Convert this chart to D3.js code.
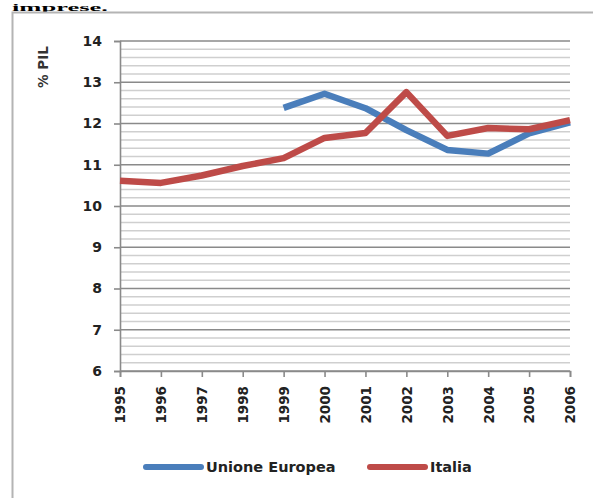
<!DOCTYPE html>
<html><head><meta charset="utf-8">
<script src="https://cdn.jsdelivr.net/npm/d3@7/dist/d3.min.js"></script>
<style>
html,body{margin:0;padding:0;background:#fff;}
svg{display:block;}
</style></head>
<body>
<svg id="chart" width="593" height="498"></svg>
<script>
const years = ["1995","1996","1997","1998","1999","2000","2001","2002","2003","2004","2005","2006"];
const ueValues = [null,null,null,null,12.38,12.72,12.37,11.84,11.36,11.27,11.76,12.03];
const italiaValues = [10.61,10.56,10.74,10.97,11.16,11.65,11.77,12.76,11.7,11.89,11.86,12.08];
const yTicks = [6,7,8,9,10,11,12,13,14];
const seriesNames = ["Unione Europea","Italia"];
const seriesColors = ["#4A7EBB","#BE4B48"];

const svg = d3.select("#chart");
const font = "'DejaVu Sans', sans-serif";

// title fragment above the chart frame
svg.append("text").attr("x",12).attr("y",10.5)
  .attr("font-family","'Liberation Serif', serif").attr("font-weight","bold")
  .attr("font-size",11).attr("fill","#000")
  .attr("textLength",96).attr("lengthAdjust","spacingAndGlyphs")
  .text("imprese.");

// chart frame
svg.append("rect").attr("x",12.5).attr("y",12.5).attr("width",640).attr("height",560)
  .attr("fill","none").attr("stroke","#b4b4b4").attr("stroke-width",2);

const x = d3.scalePoint().domain(years).range([120,570]);
const y = d3.scaleLinear().domain([6,14]).range([371,41]);

// minor gridlines
const minor = d3.range(6,14.001,0.2).map(v=>+v.toFixed(1));
svg.append("g").selectAll("line").data(minor.filter(v=>Math.abs(v-Math.round(v))>0.01)).join("line")
  .attr("x1",120).attr("x2",570)
  .attr("y1",d=>y(d)).attr("y2",d=>y(d))
  .attr("stroke","#cfcfcf").attr("stroke-width",1.6);
// major gridlines
svg.append("g").selectAll("line").data(yTicks).join("line")
  .attr("x1",120).attr("x2",570)
  .attr("y1",d=>y(d)).attr("y2",d=>y(d))
  .attr("stroke","#8a8a8a").attr("stroke-width",1.6);

// y axis
const yAxis = svg.append("g").attr("transform","translate(120,0)")
  .call(d3.axisLeft(y).tickValues(yTicks).tickSize(6).tickPadding(12).tickFormat(d3.format("d")));
yAxis.select(".domain").attr("stroke","#8a8a8a").attr("stroke-width",1.6);
yAxis.selectAll(".tick line").attr("stroke","#8a8a8a").attr("stroke-width",1.6);
yAxis.selectAll("text").attr("font-family",font).attr("font-weight","bold")
  .attr("font-size",14).attr("fill","#222");

// x axis
const xAxis = svg.append("g").attr("transform","translate(0,371)")
  .call(d3.axisBottom(x).tickSize(6).tickPadding(4));
xAxis.select(".domain").attr("stroke","#8a8a8a").attr("stroke-width",1.6);
xAxis.selectAll(".tick line").attr("stroke","#8a8a8a").attr("stroke-width",1.6);
xAxis.selectAll("text").attr("font-family",font).attr("font-weight","bold")
  .attr("font-size",13.5).attr("fill","#222")
  .attr("transform","rotate(-90)").attr("text-anchor","end")
  .attr("x",-15).attr("y",0).attr("dy","0.36em");

// y label
svg.append("text").attr("transform","translate(43,67) rotate(-90)")
  .attr("text-anchor","middle").attr("dy","0.36em")
  .attr("font-family",font).attr("font-weight","bold")
  .attr("font-size",13.5).attr("fill","#333").text("% PIL");

// lines
const line = d3.line().defined(d=>d.v!=null).x(d=>x(d.year)).y(d=>y(d.v));
[ueValues, italiaValues].forEach((vals,i)=>{
  const data = years.map((yr,j)=>({year:yr,v:vals[j]}));
  svg.append("path").datum(data).attr("d",line)
    .attr("fill","none").attr("stroke",seriesColors[i]).attr("stroke-width",6.5)
    .attr("stroke-linejoin","round").attr("stroke-linecap","butt");
});

// legend
const legendX = [146,370];
seriesNames.forEach((n,i)=>{
  const g = svg.append("g");
  g.append("line").attr("x1",legendX[i]).attr("x2",legendX[i]+55)
    .attr("y1",467).attr("y2",467).attr("stroke",seriesColors[i]).attr("stroke-width",6)
    .attr("stroke-linecap","round");
  g.append("text").attr("x",legendX[i]+60).attr("y",467).attr("dy","0.36em")
    .attr("font-family",font).attr("font-weight","bold")
    .attr("font-size",14.5).attr("fill","#222").text(n);
});
</script>
</body></html>
